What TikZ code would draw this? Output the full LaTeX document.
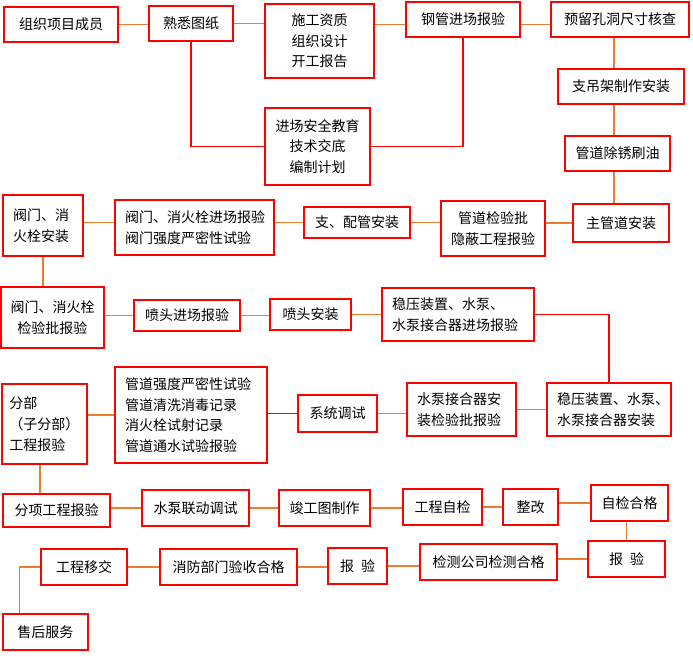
\documentclass[tikz,border=0pt]{standalone}
\usepackage{fontspec}
\setmainfont{Noto Sans CJK SC}
\usepackage{xcolor}
\usepackage{tikz}
\usetikzlibrary{positioning}
\definecolor{boxred}{RGB}{255,0,0}
\definecolor{lineorange}{RGB}{240,125,45}

\tikzset{
    box/.style={draw=boxred, line width=1.5pt, inner sep=0pt, align=center,
        font=\fontsize{10.5pt}{15.5pt}\selectfont},
    lbox/.style={box, align=left, text width=#1*0.75pt},
    wh/.style 2 args={minimum width=#1*0.75pt, minimum height=#2*0.75pt},
    link/.style={draw=lineorange, line width=1pt},
    redlink/.style={draw=boxred, line width=1pt}
}

\begin{document}
\begin{tikzpicture}[x=0.75pt, y=-0.75pt]
\useasboundingbox (0,0) rectangle (693,657);

% Row 1: preparation
\node[box, wh={114}{35}] (org) at (61,24.5) {组织项目成员};
\node[box, wh={84}{35}] (fam) at (191,23.5) {熟悉图纸};
\node[box, wh={109}{74}] (qual) at (319.5,41) {施工资质\\组织设计\\开工报告};
\node[box, wh={105}{77}] (safe) at (317.5,146.5) {进场安全教育\\技术交底\\编制计划};
\node[box, wh={114}{35}] (pipe) at (463,19.5) {钢管进场报验};
\node[box, wh={138}{35}] (hole) at (620,19.5) {预留孔洞尺寸核查};

% Right column
\node[box, wh={126}{35}] (hang) at (621,86.5) {支吊架制作安装};
\node[box, wh={105}{35}] (rust) at (617.5,153.5) {管道除锈刷油};
\node[box, wh={96}{38}] (main) at (621,223) {主管道安装};
\coordinate (spine) at (614,0);

% Row 2: valves and branch pipes
\node[box, wh={104}{55}] (hide) at (493,228.5) {管道检验批\\隐蔽工程报验};
\node[box, wh={106}{31}] (branch) at (357,222.5) {支、配管安装};
\node[lbox=139, wh={159}{55}] (vin) at (194.5,227.5) {阀门、消火栓进场报验\\阀门强度严密性试验};
\node[lbox=60, wh={80}{61}] (vset) at (43,225.5) {阀门、消\\火栓安装};

% Row 3: sprinklers
\node[box, wh={103}{61}] (vchk) at (52.5,317.5) {阀门、消火栓\\检验批报验};
\node[box, wh={106}{31}] (sin) at (187,315.5) {喷头进场报验};
\node[box, wh={81}{31}] (sset) at (310.5,314.5) {喷头安装};
\node[lbox=132, wh={152}{53}] (pin) at (458,314.5) {稳压装置、水泵、\\水泵接合器进场报验};

% Row 4: pumps and testing
\node[lbox=104, wh={124}{53}] (pset) at (609,409.5) {稳压装置、水泵、\\水泵接合器安装};
\node[lbox=89, wh={109}{53}] (jchk) at (461.5,409.5) {水泵接合器安\\装检验批报验};
\node[box, wh={79}{37}] (test) at (337.5,413.5) {系统调试};
\node[lbox=132, wh={152}{96}] (rec) at (191,415) {管道强度严密性试验\\管道清洗消毒记录\\消火栓试射记录\\管道通水试验报验};
\node[lbox=70, wh={85}{80}] (part) at (44.5,424) {分部\\（子分部）\\工程报验};

% Row 5: acceptance
\node[box, wh={107}{33}] (sub) at (56.5,510.5) {分项工程报验};
\node[box, wh={107}{36}] (pump) at (195.5,508) {水泵联动调试};
\node[box, wh={91}{36}] (asbuilt) at (324.5,508) {竣工图制作};
\node[box, wh={79}{36}] (self) at (442.5,507) {工程自检};
\node[box, wh={55}{36}] (fix) at (530.5,507) {整改};
\node[box, wh={77}{36}] (ok) at (629.5,503) {自检合格};

% Row 6: handover
\node[box, wh={77}{36}] (rep1) at (626.5,559) {报\hspace{0.5em}验};
\node[box, wh={137}{36}] (lab) at (488.5,562) {检测公司检测合格};
\node[box, wh={59}{36}] (rep2) at (357.5,566) {报\hspace{0.5em}验};
\node[box, wh={137}{36}] (fire) at (228.5,567) {消防部门验收合格};
\node[box, wh={86}{36}] (hand) at (84,567) {工程移交};
\node[box, wh={85}{36}] (serv) at (45.5,632) {售后服务};

% Links
\draw[link] (org.east) -- (org.east -| fam.west);
\draw[link] (fam.east) -- (fam.east -| qual.west);
\draw[link] (qual.east |- org) -- (pipe.west |- org);
\draw[link] (pipe.east |- org) -- (hole.west |- org);
\draw[redlink] (fam.south) |- (safe.west);
\draw[redlink] (pipe.south) |- (safe.east);
\draw[link] (hole.south -| spine) -- (hang.north -| spine);
\draw[link] (hang.south -| spine) -- (rust.north -| spine);
\draw[link] (rust.south -| spine) -- (main.north -| spine);
\draw[link] (hide.east |- main) -- (main.west);
\draw[link] (branch.east) -- (branch.east -| hide.west);
\draw[link] (vin.east |- branch) -- (branch.west);
\draw[link] (vset.east |- branch) -- (vin.west |- branch);
\draw[link] (vset.south) -- (vset.south |- vchk.north);
\draw[link] (vchk.east |- sin) -- (sin.west);
\draw[link] (sin.east) -- (sin.east -| sset.west);
\draw[link] (sset.east) -- (sset.east -| pin.west);
\draw[redlink] (pin.east) -| (pset.north);
\draw[link] (jchk.east |- pset) -- (pset.west);
\draw[link] (test.east) -- (test.east -| jchk.west);
\draw[redlink] (rec.east |- test) -- (test.west);
\draw[link] (part.east |- rec.west) -- (rec.west);
\draw[link] ([xshift=-3.4pt]part.south) -- ([xshift=-3.4pt]part.south |- sub.north);
\draw[link] (sub.east |- pump) -- (pump.west);
\draw[link] (pump.east) -- (asbuilt.west);
\draw[link] (asbuilt.east) -- (asbuilt.east -| self.west);
\draw[link] (self.east) -- (fix.west);
\draw[link] (fix.east |- ok) -- (ok.west);
\draw[link] (ok.south -| rep1) -- (rep1.north);
\draw[link] (lab.east |- rep1) -- (rep1.west);
\draw[link] (rep2.east) -- (rep2.east -| lab.west);
\draw[link] (fire.east) -- (fire.east -| rep2.west);
\draw[link] (hand.east) -- (fire.west);
\draw[link] (hand.west) -| ([xshift=-19.5pt]serv.north);

\end{tikzpicture}
\end{document}
